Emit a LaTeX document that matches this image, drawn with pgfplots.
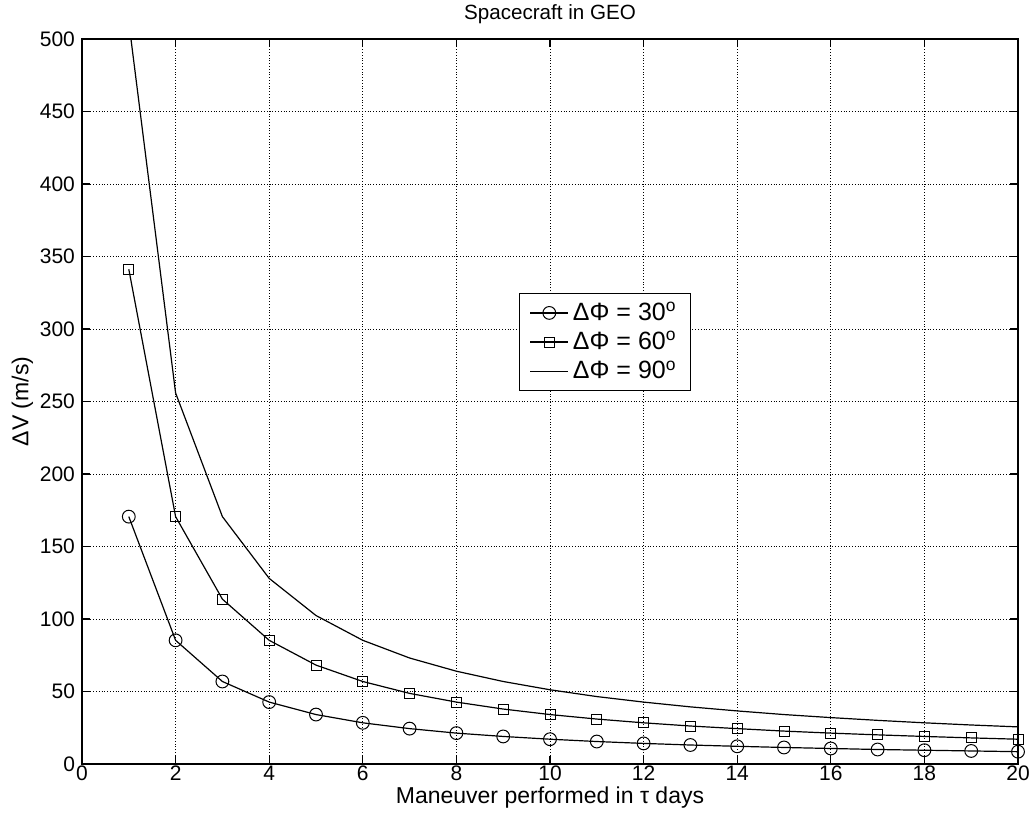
\documentclass[border=0pt]{standalone}
\usepackage{pgfplots}
\pgfplotsset{compat=1.18}
\usepackage{fontspec}
\setmainfont{Liberation Sans}
\begin{document}
\begin{tikzpicture}
\useasboundingbox (-41pt,-30.5pt) rectangle (475.5pt,382pt);
\begin{axis}[
  scale only axis, width=468pt, height=362.5pt,
  xmin=0, xmax=20, ymin=0, ymax=500,
  xtick={0,2,...,20}, ytick={0,50,...,500},
  tick align=inside, major tick length=4pt,
  xtick pos=both, ytick pos=both,
  grid=major,
  major grid style={black, densely dotted, line width=0.5pt},
  axis line style={black, line width=0.6pt},
  tick style={black, line width=0.6pt},
  every tick label/.append style={font=\fontsize{10.5}{12}\selectfont},
  xticklabel style={yshift=2.5pt},
  /pgf/number format/assume math mode=true,
  title={Spacecraft in GEO},
  title style={font=\fontsize{10.3}{12}\selectfont, yshift=-2pt},
  xlabel={Maneuver performed in τ days},
  ylabel={ΔV (m/s)},
  label style={font=\fontsize{11.5}{13}\selectfont},
  xlabel style={yshift=1.5pt, inner ysep=1pt},
  ylabel style={yshift=-3.5pt},
  legend style={at={(rel axis cs:0.467,0.650)}, anchor=north west,
    draw=black, line width=0.6pt, font=\fontsize{12.5}{14}\selectfont,
    row sep=0pt, inner xsep=5pt, inner ysep=2.5pt,
    /tikz/every even column/.append style={column sep=3pt}},
  legend cell align=left,
  legend image code/.code={\draw[mark repeat=2,mark phase=2,#1] plot coordinates {(0pt,0pt)(9.5pt,0pt)(19pt,0pt)};},
  every axis plot/.append style={black, line width=0.6pt},
]
\addplot[mark=o, mark size=3.2pt, mark options={line width=0.5pt}] coordinates {
(1,170.6)(2,85.3)(3,56.9)(4,42.7)(5,34.1)(6,28.4)(7,24.4)(8,21.3)(9,19.0)(10,17.1)
(11,15.5)(12,14.2)(13,13.1)(14,12.2)(15,11.4)(16,10.7)(17,10.0)(18,9.5)(19,9.0)(20,8.5)};
\addlegendentry{ΔΦ = 30\textsuperscript{o}}
\addplot[mark=square, mark size=2.5pt, mark options={line width=0.5pt}] coordinates {
(1,341.2)(2,170.6)(3,113.7)(4,85.3)(5,68.2)(6,56.9)(7,48.7)(8,42.7)(9,37.9)(10,34.1)
(11,31.0)(12,28.4)(13,26.2)(14,24.4)(15,22.7)(16,21.3)(17,20.1)(18,19.0)(19,18.0)(20,17.1)};
\addlegendentry{ΔΦ = 60\textsuperscript{o}}
\addplot[no marks] coordinates {
(1,511.8)(2,255.9)(3,170.6)(4,128.0)(5,102.4)(6,85.3)(7,73.1)(8,64.0)(9,56.9)(10,51.2)
(11,46.5)(12,42.7)(13,39.4)(14,36.6)(15,34.1)(16,32.0)(17,30.1)(18,28.4)(19,26.9)(20,25.6)};
\addlegendentry{ΔΦ = 90\textsuperscript{o}}
\end{axis}
\end{tikzpicture}
\end{document}
